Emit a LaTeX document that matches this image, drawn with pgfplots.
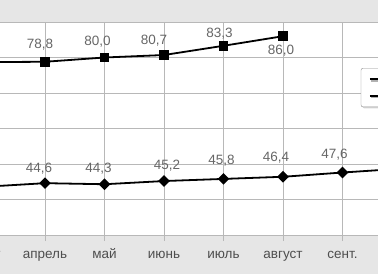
\documentclass[border=0pt]{standalone}
\usepackage{fontspec}
\setmainfont{Liberation Sans}
\usepackage{pgfplots}
\usepackage{pgfplotstable}
\pgfplotsset{compat=1.18}
\usetikzlibrary{shadows}
\definecolor{bandgray}{HTML}{E6E6E6}
\definecolor{gridgray}{HTML}{B8B8B8}
\definecolor{labgray}{HTML}{4E4E4E}
\definecolor{valgray}{HTML}{666666}
\pgfplotstableread{
x y dx dy
0 78.7 -5 17
1 78.8 -5 17
2 80.0 -7 16
3 80.7 -10 14
4 83.3 -4 12
}\seriesAabove
\pgfplotstableread{
x y dx dy
5 86.0 -2 -14
}\seriesAbelow
\pgfplotstableread{
x y
0 78.7
1 78.8
2 80.0
3 80.7
4 83.3
5 86.0
}\seriesA
\pgfplotstableread{
x y dx dy
0 43.6 -5 15
1 44.6 -6 15
2 44.3 -6 16
3 45.2 3 15
4 45.8 -2 18
5 46.4 -7 19
6 47.6 -8 18
7 48.7 -5 17
}\seriesB
\pgfplotsset{
  vallabels/.style={draw=none, mark=none, forget plot,
    visualization depends on={\thisrow{dx}\as\dx},
    visualization depends on={\thisrow{dy}\as\dy},
    nodes near coords, point meta=y,
    nodes near coords style={/pgf/number format/fixed, /pgf/number format/fixed zerofill,
      /pgf/number format/precision=1, /pgf/number format/use comma,
      /pgf/number format/assume math mode=true},
    every node near coord/.append style={anchor=center, xshift=\dx pt, yshift=\dy pt,
      font=\fontsize{13.5}{16}\selectfont, text=valgray}},
}
\begin{document}
\begin{tikzpicture}
\useasboundingbox (44.25pt,-39pt) rectangle (422.25pt,235pt);
\clip (44.25pt,-39pt) rectangle (422.25pt,235pt);
\fill[bandgray] (44.25pt,-39pt) rectangle (422.25pt,235pt);
\begin{axis}[
  scale only axis, width=476pt, height=213pt,
  xmin=-0.5, xmax=7.5, ymin=30, ymax=90,
  axis background/.style={fill=white},
  xtick={0,...,7},
  xticklabels={март,апрель,май,июнь,июль,август,сент.,окт.},
  ytick={30,40,...,90},
  grid=major,
  grid style={gridgray, line width=0.8pt},
  axis line style={gridgray, line width=0.8pt},
  tick style={gridgray, line width=0.8pt},
  tick align=outside, xtick pos=bottom, ytick pos=left,
  major tick length=6pt,
  xticklabel style={font=\fontsize{13.5}{16}\selectfont, text=labgray, anchor=base, yshift=-17.5pt},
  yticklabel style={font=\fontsize{13.5}{16}\selectfont, text=labgray},
  legend style={at={(0.851,0.784)}, anchor=north west, draw=black!45, fill=white,
    rounded corners=2pt, drop shadow={shadow xshift=1.5pt, shadow yshift=-1.5pt, opacity=0.3},
    font=\fontsize{13.5}{16}\selectfont, text=labgray, inner xsep=8pt, inner ysep=3.5pt,
    row sep=2pt},
  legend image code/.code={\draw[mark=none] (0pt,0pt) -- (28pt,0pt);},
  legend cell align=left,
]
\addplot[black, line width=1.8pt, mark=square*, mark size=4pt, mark options={solid}]
  table[x=x, y=y] {\seriesA};
\addlegendentry{ряд 1}
\addplot[black, line width=1.8pt, mark=square*, mark size=3.2pt, mark options={solid, rotate=45}]
  table[x=x, y=y] {\seriesB};
\addlegendentry{ряд 2}
\addplot[vallabels] table[x=x, y=y] {\seriesAabove};
\addplot[vallabels] table[x=x, y=y] {\seriesAbelow};
\addplot[vallabels] table[x=x, y=y] {\seriesB};
\end{axis}
\end{tikzpicture}
\end{document}
